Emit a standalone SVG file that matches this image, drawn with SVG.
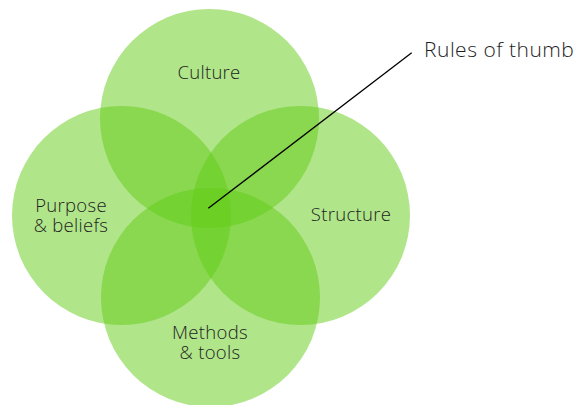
<svg xmlns="http://www.w3.org/2000/svg" width="576" height="405" viewBox="0 0 576 405">
  <style>
    .set { fill: #61cb15; fill-opacity: 0.5; }
    .label { font-family: "Open Sans", "Noto Sans", "Liberation Sans", sans-serif; font-weight: 300; font-size: 18.5px; letter-spacing: 0.3px; fill: #1e1e1e; text-anchor: middle; }
    .callout { font-family: "Open Sans", "Noto Sans", "Liberation Sans", sans-serif; font-weight: 300; font-size: 21px; letter-spacing: 0.5px; fill: #1e1e1e; }
    .leader { stroke: #000; stroke-width: 1.3; fill: none; }
  </style>
  <rect width="576" height="405" fill="#fff"/>
  <g id="culture">
    <circle class="set" cx="209.5" cy="118.5" r="109.5"/>
    <text class="label" x="209" y="79">Culture</text>
  </g>
  <g id="purpose">
    <circle class="set" cx="121.5" cy="215.5" r="109.5"/>
    <text class="label" x="71" y="212">Purpose</text>
    <text class="label" x="71" y="232">&amp; beliefs</text>
  </g>
  <g id="structure">
    <circle class="set" cx="300.5" cy="215.5" r="109.5"/>
    <text class="label" x="351" y="221">Structure</text>
  </g>
  <g id="methods">
    <circle class="set" cx="210.5" cy="297.5" r="109.5"/>
    <text class="label" x="210" y="339">Methods</text>
    <text class="label" x="210" y="359">&amp; tools</text>
  </g>
  <g id="connectors">
    <line class="leader" x1="208.3" y1="208.3" x2="411.7" y2="52.7"/>
  </g>
  <g id="rules-of-thumb">
    <text class="callout" x="424" y="57">Rules of thumb</text>
  </g>
</svg>
